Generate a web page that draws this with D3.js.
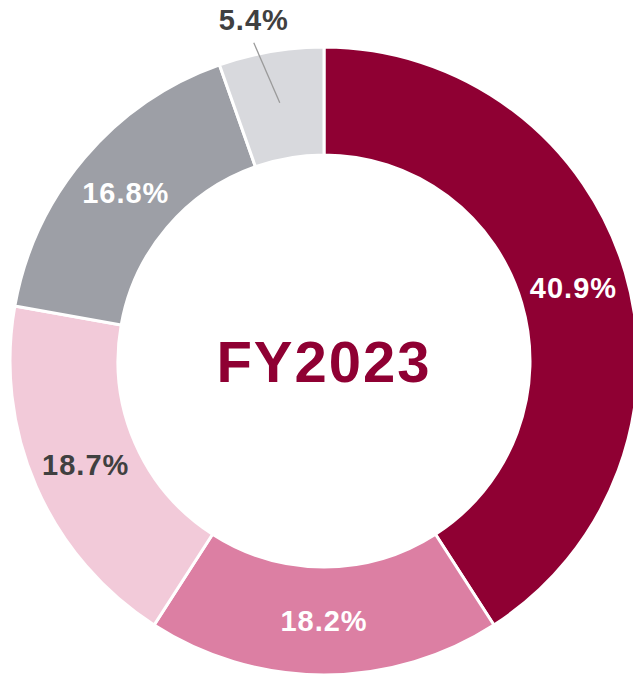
<!DOCTYPE html>
<html><head><meta charset="utf-8">
<script src="https://cdn.jsdelivr.net/npm/d3@7"></script>
<style>body{margin:0;background:#fff}svg{display:block}</style>
</head><body>
<script>
const categories = ["A","B","C","D","E"];
const values = [40.9, 18.2, 18.7, 16.8, 5.4];
const labels = ["40.9%","18.2%","18.7%","16.8%","5.4%"];
const colors = ["#8f0033","#dc7fa3","#f2cad9","#9d9fa6","#d8d9dd"];
const labelColors = ["#fff","#fff","#404040","#fff","#404040"];
const centerTitle = "FY2023";

const W=633,H=675, cx=324, cy=361, R=314, r=206;
const svg=d3.select("body").append("svg").attr("width",W).attr("height",H);
const g=svg.append("g").attr("transform",`translate(${cx},${cy})`);
const pie=d3.pie().sort(null).value(d=>d)(values);
const arc=d3.arc().innerRadius(r).outerRadius(R);
g.selectAll("path").data(pie).join("path")
  .attr("d",arc).attr("fill",(d,i)=>colors[i])
  .attr("stroke","#fff").attr("stroke-width",3);
const mid=d3.arc().innerRadius((r+R)/2).outerRadius((r+R)/2);
const font="'Liberation Sans', Arial, sans-serif";
pie.forEach((d,i)=>{
  if(i===4){
    // outside label with leader line
    const a=(d.startAngle+d.endAngle)/2;
    const p1=[Math.sin(a)*(R-52),-Math.cos(a)*(R-52)];
    const p2=[p1[0]-26,p1[1]-60];
    g.append("line").attr("x1",p1[0]).attr("y1",p1[1]).attr("x2",p2[0]).attr("y2",p2[1])
      .attr("stroke","#9a9a9a").attr("stroke-width",1.3);
    g.append("text").attr("x",p2[0]).attr("y",p2[1]-13).attr("text-anchor","middle")
      .attr("font-family",font).attr("font-weight","bold").attr("font-size",29).attr("letter-spacing",1)
      .attr("fill",labelColors[i]).text(labels[i]);
  } else {
    const c=mid.centroid(d);
    g.append("text").attr("x",c[0]).attr("y",c[1]).attr("dy","0.36em").attr("text-anchor","middle")
      .attr("font-family",font).attr("font-weight","bold").attr("font-size",29).attr("letter-spacing",1)
      .attr("fill",labelColors[i]).text(labels[i]);
  }
});
g.append("text").attr("x",0).attr("y",0).attr("dy","0.36em").attr("text-anchor","middle")
  .attr("font-family",font).attr("font-weight","bold").attr("font-size",58).attr("letter-spacing",2)
  .attr("fill","#8f0033").text(centerTitle);
</script>
</body></html>
